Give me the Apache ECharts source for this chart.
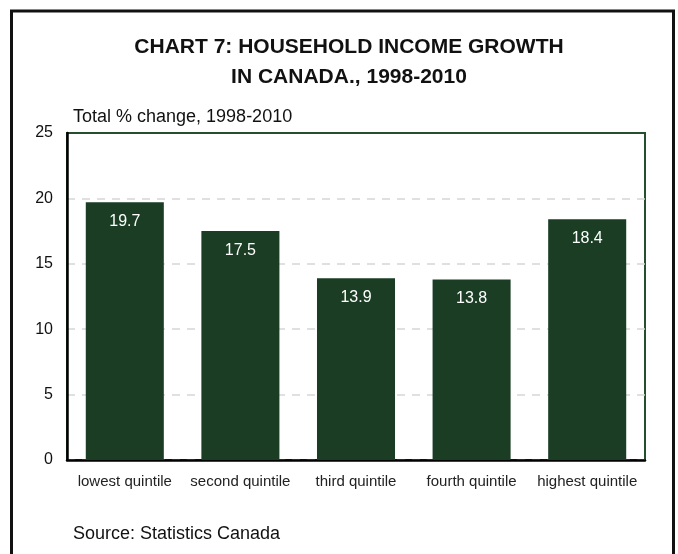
<!DOCTYPE html>
<html>
<head>
<meta charset="utf-8">
<script src="https://cdn.jsdelivr.net/npm/echarts@6/dist/echarts.min.js"></script>
<style>
html,body{margin:0;padding:0;background:#fff;}
#chart{width:678px;height:554px;}
</style>
</head>
<body>
<div id="chart"></div>
<script>
const categories = ['lowest quintile', 'second quintile', 'third quintile', 'fourth quintile', 'highest quintile'];
const values = [19.7, 17.5, 13.9, 13.8, 18.4];
const yTicks = [0, 5, 10, 15, 20, 25];
const titleText = 'CHART 7: HOUSEHOLD INCOME GROWTH\nIN CANADA., 1998-2010';
const subtitleText = 'Total % change, 1998-2010';
const sourceText = 'Source: Statistics Canada';

const FONT = '"Liberation Sans", Arial, sans-serif';
const chart = echarts.init(document.getElementById('chart'));
chart.setOption({
  animation: false,
  backgroundColor: '#fff',
  title: {
    text: titleText,
    left: 344,
    textAlign: 'center',
    top: 27,
    textStyle: { fontFamily: FONT, fontSize: 21, fontWeight: 'bold', color: '#111', lineHeight: 30 }
  },
  grid: {
    left: 67, right: 33, top: 133, bottom: 94,
    show: true, borderColor: '#24502f', borderWidth: 2, backgroundColor: 'transparent'
  },
  xAxis: {
    type: 'category',
    data: categories,
    axisLine: { show: true, lineStyle: { color: '#000', width: 2.5 } },
    axisTick: { show: false },
    axisLabel: { interval: 0, margin: 14, fontFamily: FONT, fontSize: 15, color: '#222' }
  },
  yAxis: {
    type: 'value',
    min: yTicks[0], max: yTicks[yTicks.length - 1], interval: 5,
    axisLine: { show: true, lineStyle: { color: '#000', width: 2.5 } },
    axisTick: { show: false },
    axisLabel: { margin: 14, fontFamily: FONT, fontSize: 16, color: '#111' },
    splitLine: { show: true, lineStyle: {
      color: ['#d6d6d6', '#d6d6d6', '#d6d6d6', '#d6d6d6', '#d6d6d6', 'rgba(0,0,0,0)'],
      width: 1.5, type: [8, 7] } }
  },
  series: [{
    type: 'bar',
    data: values,
    barWidth: '67.5%',
    itemStyle: { color: '#1a3d24' },
    label: {
      show: true, position: 'insideTop', distance: 11,
      fontFamily: FONT, fontSize: 16, color: '#fff',
      formatter: p => p.value.toFixed(1)
    }
  }],
  graphic: [
    { type: 'rect', shape: { x: 11.5, y: 11, width: 662, height: 620 },
      style: { fill: 'none', stroke: '#111', lineWidth: 3 }, silent: true, z: 100 },
    { type: 'text', left: 73, top: 108,
      style: { text: subtitleText, font: '18px ' + FONT, fill: '#111' } },
    { type: 'text', left: 73, top: 525,
      style: { text: sourceText, font: '18px ' + FONT, fill: '#111' } }
  ]
});
</script>
</body>
</html>
